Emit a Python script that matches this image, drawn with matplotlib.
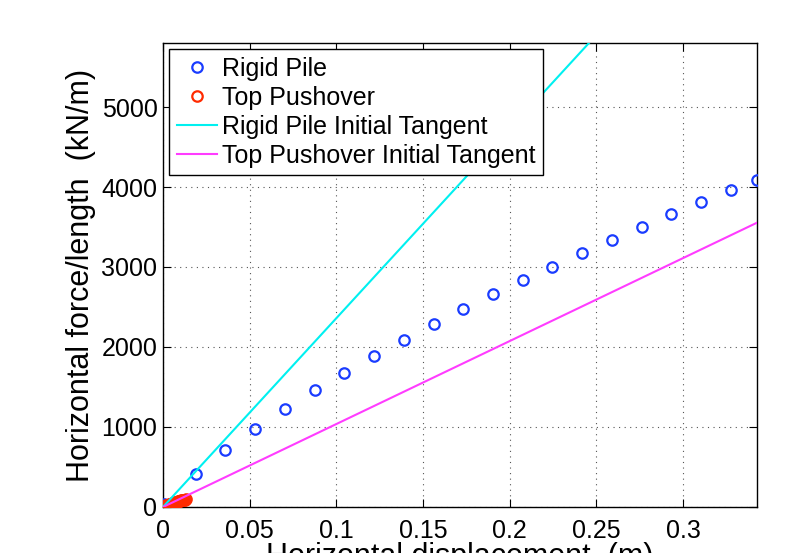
import matplotlib
matplotlib.use("Agg")
import matplotlib.pyplot as plt
import numpy as np

plt.rcParams['font.family'] = ['Liberation Sans', 'DejaVu Sans']

# Rigid pile response (displacement in m, force per length in kN/m)
rigid_disp = [0.0008, 0.0189, 0.0360, 0.0532, 0.0703, 0.0875, 0.1046, 0.1218,
              0.1389, 0.1561, 0.1732, 0.1904, 0.2075, 0.2247, 0.2418, 0.2590,
              0.2761, 0.2933, 0.3104, 0.3276, 0.3427]
rigid_force = [40, 416, 709, 971, 1221, 1460, 1675, 1888, 2088, 2288, 2475,
               2662, 2838, 3005, 3175, 3334, 3500, 3659, 3812, 3966, 4088]

# Top pushover response
top_disp = [0.0, 0.0005, 0.0010, 0.0015, 0.0020, 0.0025, 0.0030, 0.0035,
            0.0040, 0.0045, 0.0050, 0.0055, 0.0060, 0.0065, 0.0070, 0.0075,
            0.0080, 0.0085, 0.0090, 0.0095, 0.0100, 0.0105, 0.0110, 0.0115,
            0.0120, 0.0125, 0.0130]
top_force = [0, 5, 10, 15, 20, 25, 29, 33, 37, 41, 45, 49, 53, 56, 60, 63,
             67, 70, 73, 76, 79, 82, 85, 88, 90, 93, 95]

# Initial tangent stiffnesses (kN/m per m)
rigid_k0 = 23600
top_k0 = 10370
tangent_disp = [0.0, 0.3427]

xticks = [0, 0.05, 0.1, 0.15, 0.2, 0.25, 0.3]
xtick_labels = ['0', '0.05', '0.1', '0.15', '0.2', '0.25', '0.3']
yticks = [0, 1000, 2000, 3000, 4000, 5000]
ytick_labels = ['0', '1000', '2000', '3000', '4000', '5000']

fig = plt.figure(figsize=(8.08, 5.53), dpi=100)
ax = fig.add_axes([163 / 808, 1 - 507 / 553, (757 - 163) / 808, (507 - 43) / 553])

ax.plot(rigid_disp, rigid_force, 'o', mfc='none', mec='#1a3cff', mew=1.6,
        ms=7.5, label='Rigid Pile', zorder=3)
ax.plot(top_disp, top_force, 'o', mfc='none', mec='#ff2a00', mew=1.6,
        ms=7.5, label='Top Pushover', zorder=3)
tx = np.array(tangent_disp)
ax.plot(tx, rigid_k0 * tx, '-', color='#00f0f0', lw=1.5,
        label='Rigid Pile Initial Tangent', zorder=4)
ax.plot(tx, top_k0 * tx, '-', color='#ff3cff', lw=1.5,
        label='Top Pushover Initial Tangent', zorder=4)

ax.set_xlim(0, 0.3427)
ax.set_ylim(0, 5800)
ax.set_xticks(xticks)
ax.set_xticklabels(xtick_labels)
ax.set_yticks(yticks)
ax.set_yticklabels(ytick_labels)

ax.tick_params(direction='in', length=6, width=0.8, labelsize=18,
               top=True, right=True)
ax.tick_params(axis='x', pad=9)
ax.tick_params(axis='y', pad=4)
for s in ax.spines.values():
    s.set_linewidth(1.0)
ax.grid(True, linestyle=(0, (1, 4)), color='#555555', linewidth=0.8)
ax.set_axisbelow(True)

ax.set_xlabel('Horizontal displacement  (m)', fontsize=22, labelpad=-1)
ax.set_ylabel('Horizontal force/length  (kN/m)', fontsize=22, labelpad=4)

leg = ax.legend(loc='upper left', fontsize=18, frameon=True, fancybox=False,
                framealpha=1, edgecolor='black', borderaxespad=0.25,
                handlelength=1.6, handletextpad=0.2, borderpad=0.3,
                labelspacing=0.2, numpoints=1)
leg.get_frame().set_linewidth(1.0)

fig.savefig('out.png', dpi=100)
